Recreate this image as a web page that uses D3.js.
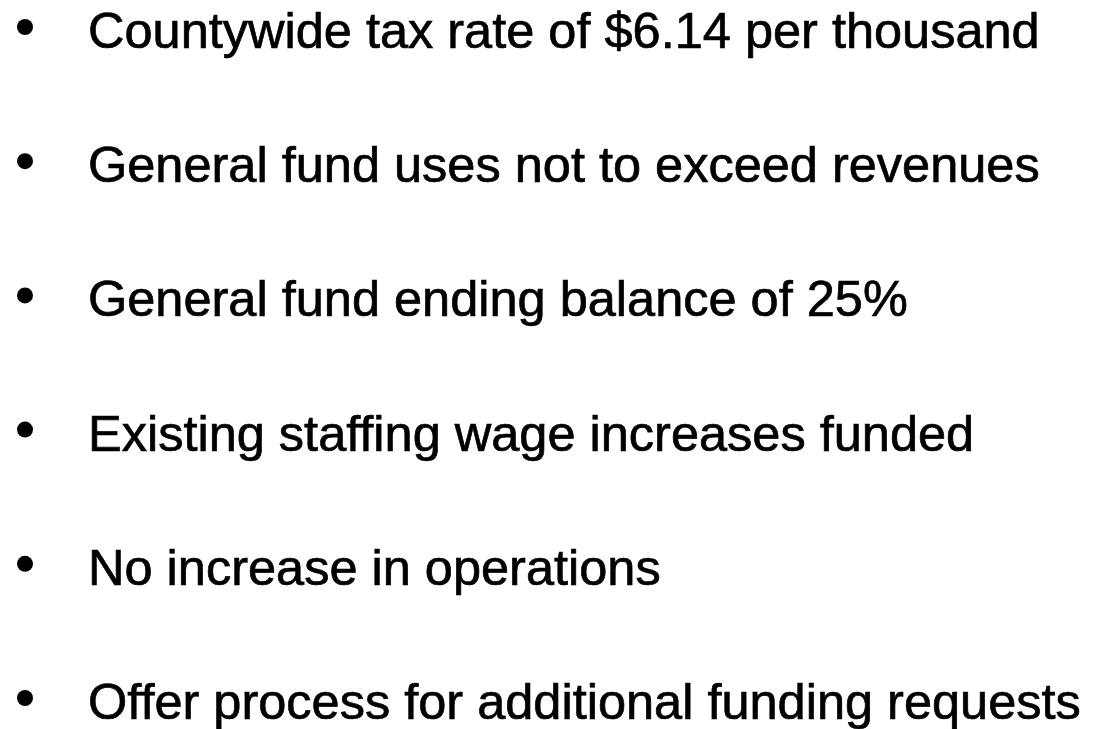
<!DOCTYPE html>
<html lang="en">
<head>
    <meta charset="UTF-8">
    <title>Budget guidelines</title>
    <style>
        body { margin: 0; background: white; }
        #svg { display: block; }
    </style>
    <script src="https://d3js.org/d3.v7.min.js"></script>
</head>
<body>
    <svg id="svg"></svg>
    <script>
        const width = 1097;
        const height = 729;

        const items = [
            'Countywide tax rate of $6.14 per thousand',
            'General fund uses not to exceed revenues',
            'General fund ending balance of 25%',
            'Existing staffing wage increases funded',
            'No increase in operations',
            'Offer process for additional funding requests'
        ];

        const svg = d3.select('#svg')
            .attr('width', width)
            .attr('height', height);

        // one row per bullet, baselines evenly spaced
        const y = d3.scalePoint()
            .domain(d3.range(items.length))
            .range([48, 719]);

        const rows = svg.selectAll('g.row')
            .data(items)
            .enter()
            .append('g')
            .attr('class', 'row')
            .attr('transform', (d, i) => 'translate(0,' + y(i) + ')');

        rows.append('circle')
            .attr('cx', 25)
            .attr('cy', -21)
            .attr('r', 8)
            .attr('fill', 'black');

        rows.append('text')
            .attr('x', 88)
            .attr('font-family', '"Liberation Sans", Arial, sans-serif')
            .attr('font-size', 50.5)
            .attr('fill', 'black')
            .attr('stroke', 'black')
            .attr('stroke-width', 0.7)
            .text(d => d);
    </script>
</body>
</html>
